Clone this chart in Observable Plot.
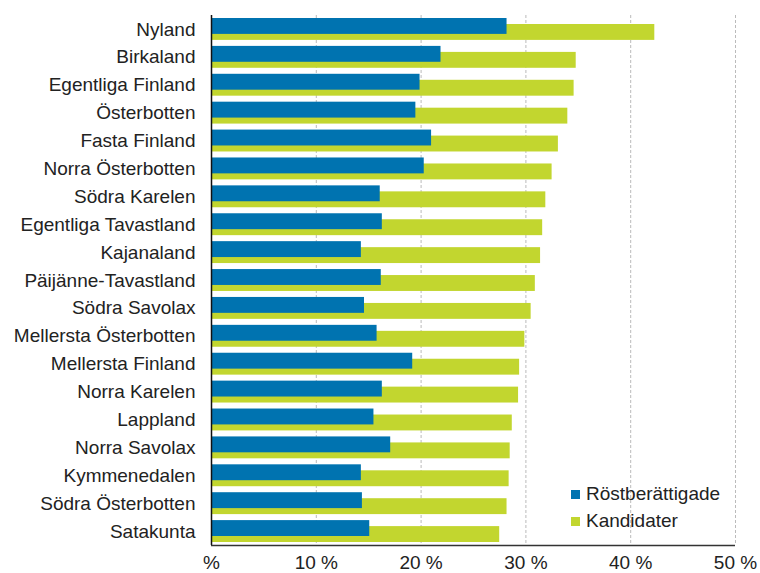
<!DOCTYPE html>
<html>
<head>
<meta charset="utf-8">
<script src="https://cdn.jsdelivr.net/npm/d3@7"></script>
<script src="https://cdn.jsdelivr.net/npm/@observablehq/plot@0.6"></script>
<style>
  body { margin: 0; background: #fff; }
  #wrap { position: relative; width: 760px; height: 573px; overflow: hidden; font-family: "Liberation Sans", Arial, sans-serif; }
  .leg { position: absolute; font-size: 19px; color: #222; line-height: 1; white-space: nowrap; }
  .leg span.sw { display: inline-block; width: 9px; height: 9px; margin-right: 6px; vertical-align: 1px; }
</style>
</head>
<body>
<div id="wrap"></div>
<script>
const regions = ["Nyland","Birkaland","Egentliga Finland","Österbotten","Fasta Finland","Norra Österbotten","Södra Karelen","Egentliga Tavastland","Kajanaland","Päijänne-Tavastland","Södra Savolax","Mellersta Österbotten","Mellersta Finland","Norra Karelen","Lappland","Norra Savolax","Kymmenedalen","Södra Österbotten","Satakunta"];
const rostberattigade = [28.2,21.9,19.9,19.5,21.0,20.3,16.1,16.3,14.3,16.2,14.6,15.8,19.2,16.3,15.5,17.1,14.3,14.4,15.1];
const kandidater = [42.3,34.8,34.6,34.0,33.1,32.5,31.9,31.6,31.4,30.9,30.5,29.9,29.4,29.3,28.7,28.5,28.4,28.2,27.5];
const seriesNames = ["Röstberättigade","Kandidater"];
const xTicks = [0,10,20,30,40,50];
const colors = ["#0073b0","#c2d62f"];

const rowsK = regions.map((r,i)=>({region:r, value:kandidater[i]}));
const rowsR = regions.map((r,i)=>({region:r, value:rostberattigade[i]}));

const chart = Plot.plot({
  width: 760, height: 573,
  marginLeft: 211, marginRight: 25, marginTop: 15, marginBottom: 28,
  style: {fontFamily: "'Liberation Sans', Arial, sans-serif", fontSize: "19px", color: "#222", background: "#fff"},
  x: {domain: [0,50], ticks: xTicks},
  y: {domain: regions, padding: 0, round: false},
  marks: [
    Plot.gridX(xTicks.filter(d=>d>0), {stroke: "#bbb", strokeOpacity: 1, strokeDasharray: "3,2"}),
    Plot.barX(rowsK, {x: "value", y: "region", fill: colors[1], insetTop: 9, insetBottom: 3}),
    Plot.barX(rowsR, {x: "value", y: "region", fill: colors[0], insetTop: 3, insetBottom: 9}),
    Plot.axisY({tickSize: 0, tickPadding: 16, label: null}),
    Plot.axisX(xTicks, {tickSize: 0, tickPadding: 10, label: null, tickFormat: d => d === 0 ? "%" : d + " %"}),
    Plot.ruleX([0], {stroke: "#111", strokeWidth: 1.5}),
    Plot.ruleY([0], {x1: 0, x2: 50, y: () => regions[regions.length-1], dy: 14, stroke: "#333", strokeWidth: 1.5})
  ]
});
const wrap = document.getElementById("wrap");
wrap.appendChild(chart);

const legTop = [484, 511];
seriesNames.forEach((name,i)=>{
  const d = document.createElement("div");
  d.className = "leg";
  d.style.left = "571px";
  d.style.top = legTop[i] + "px";
  d.innerHTML = `<span class="sw" style="background:${colors[i]}"></span>${name}`;
  wrap.appendChild(d);
});
</script>
</body>
</html>
